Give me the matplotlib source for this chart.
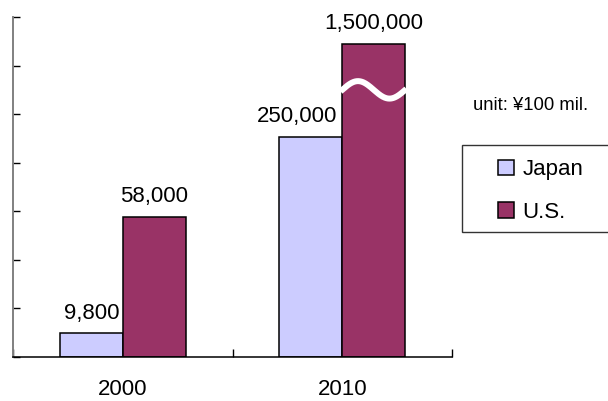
import matplotlib.pyplot as plt
import matplotlib.patches as mpatches
import numpy as np

plt.rcParams['font.family'] = ['Liberation Sans', 'DejaVu Sans']

years = ['2000', '2010']
# bar heights as drawn (the 2010 U.S. bar is broken, the 2010 bars are not to scale)
japan = [9800, 90600]
us = [57800, 128900]
japan_labels = ['9,800', '250,000']
us_labels = ['58,000', '1,500,000']

japan_color = '#CCCCFF'
us_color = '#993366'

fig = plt.figure(figsize=(6.08, 4.01), dpi=100)
ax = fig.add_axes([13 / 608, 44 / 401, (452 - 13) / 608, (357 - 17) / 401])

x = np.arange(len(years))
w = 0.287
b1 = ax.bar(x - w / 2, japan, width=w, color=japan_color, edgecolor='black', linewidth=1.1, label='Japan', zorder=2)
b2 = ax.bar(x + w / 2, us, width=w, color=us_color, edgecolor='black', linewidth=1.1, label='U.S.', zorder=2)

# value labels
offsets = [0, -9.5]
for i in range(len(years)):
    ax.annotate(japan_labels[i], (x[i] - w / 2, japan[i]), xytext=(offsets[i], 14.5),
                textcoords='offset points', ha='center', va='center', fontsize=16)
    ax.annotate(us_labels[i], (x[i] + w / 2, us[i]), xytext=(0, 14.5),
                textcoords='offset points', ha='center', va='center', fontsize=16)

# white wavy break across the 2010 U.S. bar
left = x[1]
xs = np.linspace(left - 0.008, left + w + 0.005, 200)
ys = 110000 + 3600 * np.sin(2 * np.pi * (xs - left) / w)
ax.plot(xs, ys, color='white', linewidth=4.3, solid_capstyle='butt', zorder=3)

ax.set_xlim(-0.5, 1.5)
ax.set_ylim(0, 140000)
ax.set_yticks(np.arange(0, 140001, 20000))
ax.set_yticklabels([])
ax.tick_params(axis='y', direction='in', length=5, width=1, color='black')

ax.set_xticks(x)
ax.set_xticklabels(years, fontsize=16)
ax.tick_params(axis='x', which='major', length=0, pad=16)
ax.set_xticks([-0.5, 0.5, 1.5], minor=True)
ax.tick_params(axis='x', which='minor', direction='in', length=6, width=1, color='black')

ax.spines['top'].set_visible(False)
ax.spines['right'].set_visible(False)
ax.spines['left'].set_color('#808080')
ax.spines['left'].set_linewidth(1.4)
ax.spines['bottom'].set_color('black')
ax.spines['bottom'].set_linewidth(1.1)

fig.text(473 / 608, 1 - 106 / 401, 'unit: ¥100 mil.', fontsize=13.3, ha='left', va='center')

# legend frame runs off the right edge
frame = mpatches.Rectangle((462 / 608, 1 - 232 / 401), 0.4, 87 / 401, transform=fig.transFigure,
                           facecolor='white', edgecolor='#333333', linewidth=1.0, zorder=1)
fig.patches.append(frame)
leg = fig.legend(handles=[b1, b2], loc='center left', bbox_to_anchor=(487 / 608, 1 - 191 / 401),
                 frameon=False, fontsize=16, borderpad=0, handlelength=0.7, handleheight=0.7,
                 handletextpad=0.4, labelspacing=0.95)

fig.savefig('out.png', dpi=100)
